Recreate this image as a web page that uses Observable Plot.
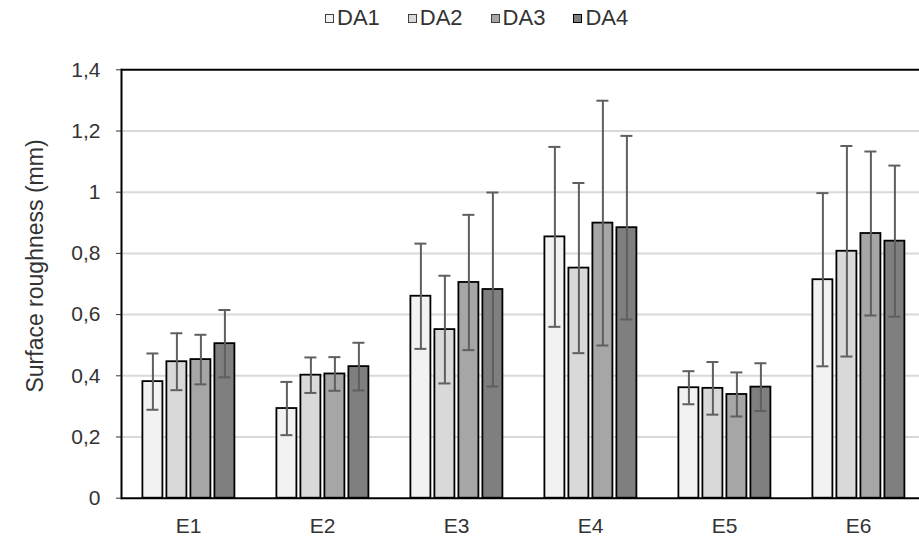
<!DOCTYPE html>
<html>
<head>
<meta charset="utf-8">
<script src="https://cdn.jsdelivr.net/npm/d3@7"></script>
<script src="https://cdn.jsdelivr.net/npm/@observablehq/plot@0.6"></script>
<style>
  html, body { margin: 0; padding: 0; background: #fff; }
  body { font-family: "Liberation Sans", Arial, sans-serif; color: #333; }
  #wrap { position: relative; width: 919px; height: 539px; overflow: hidden; }
  #legend { position: relative; height: 34px; }
  #legend .items { position: absolute; left: 325px; top: 6px; display: flex; gap: 28px; white-space: nowrap; }
  #legend .item { display: flex; align-items: center; font-size: 22px; line-height: 24px; height: 24px; }
  #legend .sw { box-sizing: border-box; width: 9px; height: 9px; border: 1px solid #404040; margin-right: 3px; }
  #ytitle { position: absolute; left: 35px; top: 266px; transform: translate(-50%, -50%) rotate(-90deg);
            white-space: nowrap; font-size: 23px; line-height: 1; color: #333; }
</style>
</head>
<body>
<div id="wrap">
  <div id="legend"><div class="items"></div></div>
  <div id="chart"></div>
  <div id="ytitle"></div>
</div>
<script>
const groups = ["E1", "E2", "E3", "E4", "E5", "E6"];
const series = ["DA1", "DA2", "DA3", "DA4"];
const seriesColors = ["#f2f2f2", "#d9d9d9", "#a6a6a6", "#7f7f7f"];

const da1 = [0.381, 0.293, 0.660, 0.854, 0.361, 0.714];
const da2 = [0.446, 0.402, 0.551, 0.752, 0.359, 0.807];
const da3 = [0.453, 0.406, 0.705, 0.899, 0.339, 0.865];
const da4 = [0.505, 0.430, 0.682, 0.884, 0.363, 0.840];

const da1Err = [0.092, 0.087, 0.172, 0.294, 0.054, 0.283];
const da2Err = [0.093, 0.058, 0.176, 0.278, 0.086, 0.344];
const da3Err = [0.081, 0.055, 0.221, 0.400, 0.072, 0.268];
const da4Err = [0.110, 0.078, 0.317, 0.300, 0.078, 0.247];

const yTicks = [0, 0.2, 0.4, 0.6, 0.8, 1, 1.2, 1.4];
const yTitle = "Surface roughness (mm)";

const values = [da1, da2, da3, da4];
const errs = [da1Err, da2Err, da3Err, da4Err];
const rows = [];
groups.forEach((g, gi) => {
  series.forEach((s, si) => {
    rows.push({group: g, series: s, value: values[si][gi], err: errs[si][gi]});
  });
});

// Legend
const items = document.querySelector("#legend .items");
series.forEach((s, i) => {
  const it = document.createElement("div");
  it.className = "item";
  const sw = document.createElement("span");
  sw.className = "sw";
  sw.style.background = seriesColors[i];
  if (i === 3) sw.style.borderColor = "#000";
  it.appendChild(sw);
  const t = document.createElement("span");
  t.textContent = s;
  it.appendChild(t);
  items.appendChild(it);
});
document.getElementById("ytitle").textContent = yTitle;

const fmt = d => String(d).replace(".", ",");
const errColor = "#5f5f5f";

const chart = Plot.plot({
  width: 919,
  height: 505,
  marginTop: 35.3,
  marginBottom: 41.3,
  marginLeft: 118.6,
  marginRight: 0,
  style: {fontFamily: "Liberation Sans, Arial, sans-serif", fontSize: "21px", color: "#333", background: "#fff"},
  fx: {domain: groups, range: [118.6, 927.4], padding: 0, label: null},
  x: {domain: series, paddingInner: 0.18, paddingOuter: 0.841, axis: null},
  y: {domain: [0, 1.4], label: null},
  color: {domain: series, range: seriesColors},
  marks: [
    Plot.ruleY(yTicks.slice(1, -1), {stroke: "#d9d9d9", strokeWidth: 2}),
    Plot.ruleY(yTicks.slice(-1), {stroke: "#000", strokeWidth: 2}),
    Plot.axisY({ticks: yTicks, tickFormat: fmt, tickSize: 5, tickPadding: 16, fontSize: 21, label: null}),
    Plot.axisFx({anchor: "bottom", tickSize: 0, tickPadding: 20, fontSize: 21, label: null}),
    Plot.barY(rows, {fx: "group", x: "series", y: "value", fill: "series", stroke: "#000", strokeWidth: 1.8}),
    Plot.ruleX(rows, {fx: "group", x: "series", y1: d => d.value - d.err, y2: d => d.value + d.err, stroke: errColor, strokeWidth: 2}),
    Plot.tickY(rows, {fx: "group", x: "series", y: d => d.value - d.err, stroke: errColor, strokeWidth: 2, insetLeft: 4, insetRight: 4}),
    Plot.tickY(rows, {fx: "group", x: "series", y: d => d.value + d.err, stroke: errColor, strokeWidth: 2, insetLeft: 4, insetRight: 4}),
    Plot.ruleY([0], {stroke: "#000", strokeWidth: 2}),
    Plot.frame({anchor: "left", facetAnchor: "left", stroke: "#000", strokeWidth: 2})
  ]
});
document.getElementById("chart").appendChild(chart);
</script>
</body>
</html>
